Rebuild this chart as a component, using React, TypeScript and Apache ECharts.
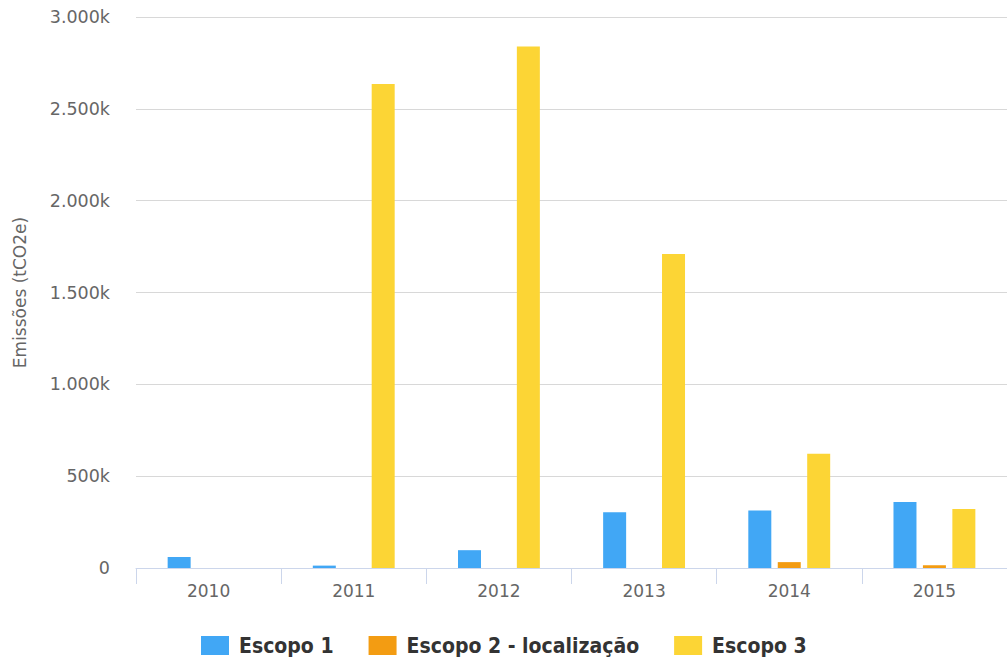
import React, { useEffect, useRef } from "react";
import * as echarts from "echarts";

const categories = ["2010", "2011", "2012", "2013", "2014", "2015"];
const escopo1 = [60, 13, 97, 303, 313, 359];
const escopo2 = [0, 0, 0, 0, 32, 15];
const escopo3 = [0, 2635, 2840, 1710, 622, 321];
const seriesNames = ["Escopo 1", "Escopo 2 - localização", "Escopo 3"];
const colors = ["#41a7f5", "#f39c12", "#fcd535"];
const yAxisName = "Emissões (tCO2e)";

function fmt(v: number): string {
  if (v === 0) return "0";
  const s = String(Math.round(v)).replace(/\B(?=(\d{3})+(?!\d))/g, ".");
  return s + "k";
}

export default function App() {
  const ref = useRef<HTMLDivElement>(null);
  useEffect(() => {
    if (!ref.current) return;
    const chart = echarts.init(ref.current, undefined, { renderer: "svg" });
    const font = "DejaVu Sans";
    const dataSets = [escopo1, escopo2, escopo3];
    chart.setOption({
      animation: false,
      grid: {
        left: 136,
        right: 0,
        top: 17,
        bottom: 90,
        containLabel: false,
        outerBoundsMode: "none",
      },
      legend: {
        left: 196,
        top: 630,
        itemWidth: 28,
        itemHeight: 19,
        itemGap: 35,
        icon: "rect",
        textStyle: {
          fontFamily: "DejaVu Sans Condensed",
          fontWeight: "bold",
          fontSize: 21,
          color: "#333333",
          padding: [0, 0, 0, 5],
        },
        data: seriesNames,
      },
      xAxis: {
        type: "category",
        data: categories,
        boundaryGap: true,
        axisLine: { lineStyle: { color: "#ccd6eb", width: 1 } },
        axisTick: { show: true, length: 16, lineStyle: { color: "#ccd6eb" } },
        axisLabel: { fontFamily: font, fontSize: 17, color: "#666666", margin: 14 },
      },
      yAxis: {
        type: "value",
        min: 0,
        max: 3000,
        interval: 500,
        name: yAxisName,
        nameLocation: "middle",
        nameGap: 108,
        nameTextStyle: { fontFamily: font, fontSize: 17, color: "#666666" },
        axisLine: { show: false },
        axisTick: { show: false },
        axisLabel: {
          fontFamily: font,
          fontSize: 17.5,
          color: "#666666",
          margin: 26,
          formatter: (v: number) => fmt(v),
        },
        splitLine: { lineStyle: { color: "#d8d8d8", width: 1 } },
      },
      series: seriesNames.map((name, i) => ({
        name,
        type: "bar",
        data: dataSets[i],
        barWidth: 23,
        barGap: "28%",
        itemStyle: { color: colors[i] },
      })),
    });
    return () => chart.dispose();
  }, []);
  return (
    <div
      ref={ref}
      style={{ position: "fixed", left: 0, top: 0, width: 1007, height: 658, background: "#ffffff" }}
    />
  );
}
